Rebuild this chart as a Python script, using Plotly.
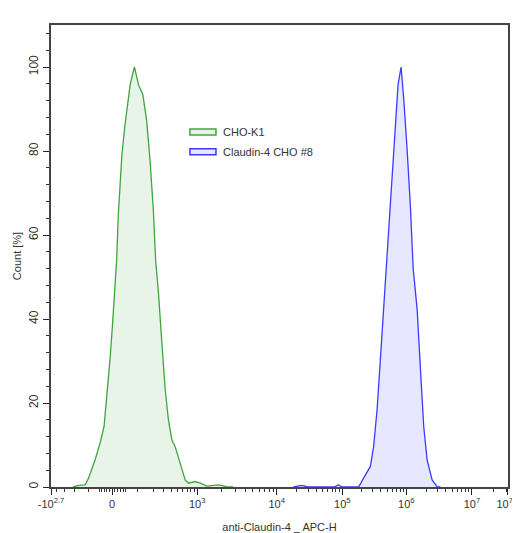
import numpy as np
import plotly.graph_objects as go

# Histograma em % (CHO-K1 vs Claudin-4 CHO #8), eixo biexponencial
cho_k1_x = [-208, -160, -121, -102, -69, -47, -31, -18, -8, 1, 8, 16, 22, 35, 47, 68, 87,
            107, 131, 155, 178, 203, 221, 246, 280, 317, 357, 405, 456, 546, 653, 735, 931,
            1093, 1327, 1856, 2367, 2840]
cho_k1_y = [0, 0.4, 0.5, 2.1, 6.5, 10.5, 14.4, 22.5, 30.4, 38.3, 46.4, 54, 64.7, 79, 86.2,
            95.8, 100, 95.8, 93.4, 87, 77.4, 65.5, 54, 46.4, 34.4, 23.2, 16, 11.2, 9.6, 5.7,
            1.7, 0.9, 1.3, 0.9, 0.2, 0.5, 0.1, 0]

cld4_x = [1.8e4, 2.4e4, 3.0e4, 7.5e4, 8.7e4, 1.0e5, 1.5e5, 1.80e5, 2.15e5, 2.74e5, 3.08e5,
          3.49e5, 3.93e5, 4.42e5, 4.99e5, 5.29e5, 5.98e5, 6.73e5, 7.42e5, 8.27e5, 9.08e5,
          1.025e6, 1.15e6, 1.27e6, 1.46e6, 1.64e6, 1.84e6, 2.07e6, 2.47e6, 2.94e6, 3.31e6]
cld4_y = [0, 0.4, 0, 0, 0.5, 0, 0, 0, 2.1, 4.9, 9.6, 18.4, 30.4, 42.3, 54.3, 60.7, 75, 86.2,
          95.8, 100, 92.6, 80.6, 67.1, 52, 42.3, 28, 14.4, 6.5, 1.7, 0.1, 0]

series = ["CHO-K1", "Claudin-4 CHO #8"]

tick_vals = [-10**2.7, 0, 1e3, 1e4, 1e5, 1e6, 1e7, 10**7.5]
tick_text = ["-10<sup>2.7</sup>", "0", "10<sup>3</sup>", "10<sup>4</sup>", "10<sup>5</sup>",
             "10<sup>6</sup>", "10<sup>7</sup>", "10<sup>7.5</sup>"]

# escala biexponencial aproximada (posicao relativa de cada decada no eixo)
scale_pos = [0, 61, 146, 225.5, 291, 355, 420.5, 456.5]


def biex(v):
    g = np.arcsinh(np.asarray(v, float) / 100) / np.log(10)
    ga = np.arcsinh(np.asarray(tick_vals, float) / 100) / np.log(10)
    return np.interp(g, ga, scale_pos)


minor_vals = ([-m * 100 for m in range(1, 5)] + [m * 10 for m in range(-5, 6) if m != 0]
              + [m * 100 for m in range(1, 10)]
              + [m * 10**k for k in range(3, 7) for m in range(2, 10)] + [2e7, 3e7])

cores = ["#3fa53f", "#3b3bff"]
preench = ["rgba(63,165,63,0.12)", "rgba(59,59,255,0.12)"]

fig = go.Figure()
fig.add_trace(go.Scatter(x=biex(cho_k1_x), y=cho_k1_y, name=series[0], mode="lines",
                         line=dict(color=cores[0], width=1.3), fill="tozeroy",
                         fillcolor=preench[0], showlegend=False))
fig.add_trace(go.Scatter(x=biex(cld4_x), y=cld4_y, name=series[1], mode="lines",
                         line=dict(color=cores[1], width=1.3), fill="tozeroy",
                         fillcolor=preench[1], showlegend=False))

# legenda desenhada a mao (retangulos com borda, como no original)
for i, nome in enumerate(series):
    y0 = 0.762 - i * 0.043
    fig.add_shape(type="rect", xref="paper", yref="paper", x0=0.304, x1=0.361,
                  y0=y0, y1=y0 + 0.013, line=dict(color=cores[i], width=1.5),
                  fillcolor=preench[i])
    fig.add_annotation(x=0.372, y=y0 + 0.0065, xref="paper", yref="paper", text=nome,
                       showarrow=False, xanchor="left", yanchor="middle",
                       font=dict(size=11, color="#333"))

# a pagina tem margem de 8px no body, por isso a figura e 8px menor
fig.update_layout(
    width=512, height=525,
    margin=dict(l=43, r=12, t=17, b=46),
    plot_bgcolor="white", paper_bgcolor="white",
    font=dict(family="Liberation Sans, Arial", size=12, color="#333"),
    showlegend=False,
)
x_lo, x_hi = biex(tick_vals[0]), biex(tick_vals[-1])
fig.update_xaxes(
    range=[x_lo - 0.05, x_hi + 0.05], automargin=False, ticklabeloverflow="allow",
    tickmode="array", tickvals=biex(tick_vals), ticktext=tick_text,
    tickfont=dict(size=11),
    ticks="outside", ticklen=6, tickcolor="#222",
    minor=dict(tickmode="array", tickvals=biex(minor_vals), ticks="outside", ticklen=3,
               tickcolor="#333", showgrid=False),
    showline=True, linecolor="#444", linewidth=1.5, mirror=True,
    showgrid=False, zeroline=False,
    title=dict(text="anti-Claudin-4 _ APC-H", font=dict(size=11), standoff=30),
)
fig.update_yaxes(
    range=[0, 110], dtick=20, tickangle=-90, automargin=False,
    ticks="outside", ticklen=6, tickcolor="#222",
    minor=dict(dtick=4, ticks="outside", ticklen=3, tickcolor="#333", showgrid=False),
    showline=True, linecolor="#444", linewidth=1.5, mirror=True,
    showgrid=False, zeroline=False,
    title=dict(text="Count [%]", font=dict(size=11), standoff=4),
)

fig.write_html("out.html")
